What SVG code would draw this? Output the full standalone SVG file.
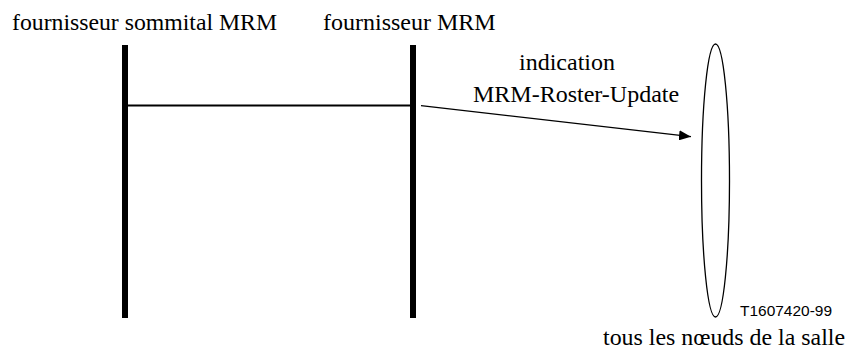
<svg xmlns="http://www.w3.org/2000/svg" width="846" height="352" viewBox="0 0 846 352">
  <style>
    .lbl { font-family: "Liberation Serif", "Times New Roman", serif; font-size: 24px; fill: #000; }
    .ref { font-family: "Liberation Sans", Arial, sans-serif; font-size: 14.5px; fill: #000; }
    .life { stroke: #000; stroke-width: 6; fill: none; }
    .msg { stroke: #000; stroke-width: 1.3; fill: none; }
  </style>
  <defs>
    <marker id="arrow" markerWidth="12" markerHeight="10" refX="12" refY="5" orient="auto" markerUnits="userSpaceOnUse">
      <path d="M0,0 L12,5 L0,10 Z" fill="#000"/>
    </marker>
  </defs>

  <g id="top-provider">
    <text class="lbl" x="12" y="30" textLength="265" lengthAdjust="spacingAndGlyphs">fournisseur sommital MRM</text>
    <line class="life" x1="125" y1="45" x2="125" y2="318"/>
  </g>

  <g id="provider">
    <text class="lbl" x="323" y="30">fournisseur MRM</text>
    <line class="life" x1="413" y1="45" x2="413" y2="318"/>
  </g>

  <g id="all-nodes">
    <ellipse cx="715.5" cy="180.5" rx="14" ry="136.5" fill="none" stroke="#000" stroke-width="1.3"/>
    <text class="lbl" x="603" y="345" textLength="242" lengthAdjust="spacingAndGlyphs">tous les nœuds de la salle</text>
  </g>

  <g id="connectors">
    <line x1="128" y1="105.5" x2="410" y2="105.5" stroke="#000" stroke-width="2"/>
    <line class="msg" x1="421" y1="105.7" x2="691" y2="136.7" marker-end="url(#arrow)"/>
    <text class="lbl" x="519" y="70">indication</text>
    <text class="lbl" x="473" y="102">MRM-Roster-Update</text>
  </g>

  <text class="ref" x="740" y="316" textLength="92" lengthAdjust="spacingAndGlyphs">T1607420-99</text>
</svg>
